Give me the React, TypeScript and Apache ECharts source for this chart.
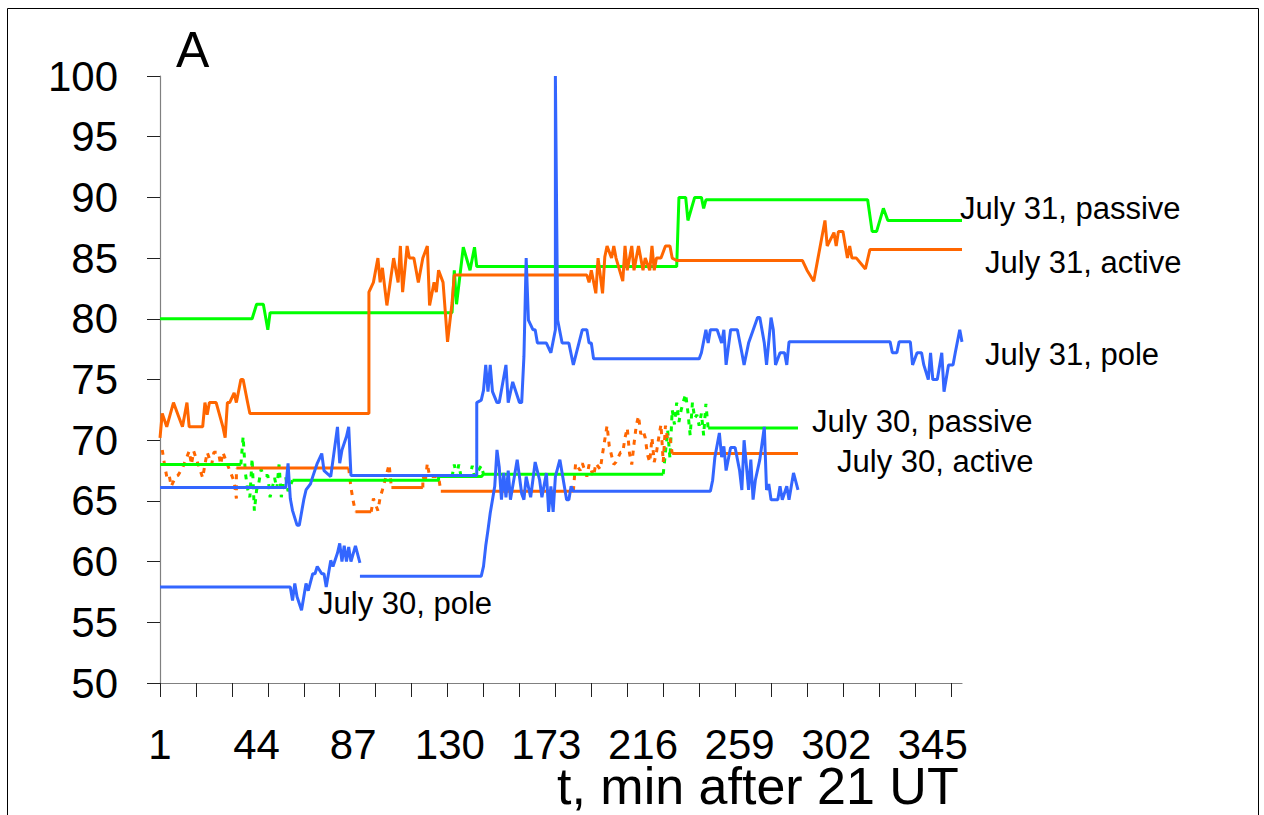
import React, { useEffect, useRef } from "react";
import * as echarts from "echarts";

type Pt = [number, number] | null;

// Categories: minutes 1..358 after 21 UT
const categories: string[] = Array.from({ length: 358 }, (_, i) => String(i + 1));
const yTicks = { min: 50, max: 100, step: 5 };

// [categoryIndex, value]; null separates unconnected pieces
const july31Passive: Pt[] = [
  [0, 80.0], [41, 80.0], [43, 81.2], [46, 81.2], [48, 79.1], [49, 80.5], [130, 80.5], [131, 84.0], [132, 81.2],
  [135, 85.9], [138, 84.0], [140, 85.9], [141, 84.3], [230, 84.3], [231, 90.0], [234, 90.0], [235, 88.1],
  [238, 90.0], [241, 90.0], [242, 89.1], [243, 89.8], [315, 89.8], [317, 87.2], [319, 87.2], [322, 89.1],
  [324, 88.1], [357, 88.1],
];

const july31Active: Pt[] = [
  [0, 70.2], [1, 72.2], [3, 71.1], [6, 73.1], [8, 72.1], [10, 71.1], [12, 73.1], [13, 71.1], [19, 71.1], [20, 73.1],
  [21, 72.1], [22, 73.1], [25, 73.1], [28, 71.1], [29, 70.2], [30, 73.1], [31, 73.1], [33, 73.9], [34, 73.1],
  [36, 75.0], [37, 75.0], [39, 73.1], [40, 72.2], [93, 72.2], [93, 82.2], [95, 83.0], [97, 85.0], [98, 83.0],
  [99, 84.2], [101, 81.1], [104, 85.0], [106, 83.0], [107, 86.0], [108, 82.2], [110, 86.0], [111, 85.0],
  [113, 85.0], [115, 83.0], [117, 85.0], [119, 86.0], [120, 81.1], [122, 83.0], [123, 82.2], [124, 84.0],
  [126, 83.0], [128, 78.1], [130, 81.3], [131, 83.6], [190, 83.6], [191, 83.0], [192, 84.0], [194, 82.1],
  [195, 85.0], [197, 82.1], [198, 85.1], [199, 86.0], [201, 85.0], [202, 86.0], [203, 85.0], [206, 83.1],
  [207, 86.0], [208, 84.0], [210, 86.0], [211, 84.0], [213, 86.0], [215, 84.0], [216, 85.0], [218, 84.0],
  [219, 86.0], [220, 84.0], [221, 85.0], [223, 85.0], [225, 86.0], [227, 86.0], [228, 85.0], [230, 84.8],
  [286, 84.8], [288, 84.0], [291, 83.1], [293, 85.1], [296, 88.1], [297, 86.0], [300, 87.1], [301, 86.0],
  [302, 87.2], [304, 87.2], [306, 85.0], [307, 86.0], [308, 85.0], [310, 85.0], [314, 84.1], [316, 85.7],
  [357, 85.7],
];

const july31Pole: Pt[] = [
  [0, 66.1], [56, 66.1], [57, 68.1], [58, 65.2], [59, 64.2], [61, 63.0], [62, 63.0], [64, 65.1], [65, 65.9],
  [67, 66.4], [68, 67.0], [70, 68.1], [72, 68.9], [73, 67.5], [76, 67.0], [79, 71.1], [80, 68.1], [81, 69.2],
  [83, 70.3], [84, 71.1], [85, 67.1], [141, 67.1], [141, 73.1], [143, 73.3], [144, 74.1], [145, 76.2],
  [146, 74.0], [147, 76.2], [148, 74.0], [150, 73.1], [151, 73.1], [154, 76.2], [155, 73.1], [157, 74.8],
  [160, 73.1], [161, 73.1], [162, 76.9], [163, 85.0], [164, 79.9], [166, 79.1], [167, 79.1], [168, 78.0],
  [172, 78.0], [174, 77.2], [176, 79.1], [176, 100.0], [177, 79.9], [179, 78.0], [182, 78.0], [184, 76.2],
  [188, 79.1], [190, 79.1], [191, 78.0], [192, 78.0], [193, 76.7], [240, 76.7], [241, 77.2], [243, 79.1],
  [244, 78.0], [245, 79.1], [246, 79.1], [248, 79.1], [250, 78.0], [251, 79.1], [252, 76.2], [254, 79.1],
  [257, 79.1], [259, 77.2], [260, 76.2], [262, 78.0], [266, 80.1], [267, 80.1], [269, 78.0], [270, 76.2],
  [272, 80.1], [273, 79.1], [274, 76.2], [276, 77.2], [278, 77.2], [279, 76.2], [280, 78.1], [325, 78.1],
  [326, 77.2], [328, 77.2], [329, 78.1], [334, 78.1], [335, 76.2], [337, 77.2], [339, 77.2], [340, 76.2],
  [342, 75.0], [343, 77.2], [344, 75.0], [346, 75.0], [348, 77.2], [349, 74.0], [351, 76.2], [353, 76.2],
  [354, 77.2], [356, 79.1], [357, 78.1],
];

const july30Pole: Pt[] = [
  [0, 57.9], [58, 57.9], [59, 56.8], [60, 58.2], [61, 57.1], [63, 56.0], [65, 58.2], [66, 57.6], [68, 59.0],
  [69, 59.0], [70, 59.6], [72, 59.0], [73, 59.0], [74, 57.9], [76, 60.1], [77, 59.6], [79, 60.7], [80, 61.5],
  [81, 60.0], [82, 61.3], [83, 60.0], [84, 61.2], [85, 60.0], [87, 61.3], [89, 59.9],
  null,
  [89, 58.8], [143, 58.8], [144, 59.6], [145, 61.3], [146, 62.6], [147, 64.0], [148, 65.1], [149, 66.2],
  [150, 69.2], [151, 67.8], [152, 65.1], [153, 67.3], [154, 65.3], [155, 67.5], [156, 65.1], [159, 68.4],
  [161, 65.6], [162, 65.1], [163, 67.0], [165, 65.3], [167, 68.2], [169, 66.7], [170, 65.3], [172, 67.3],
  [173, 64.1], [174, 66.2], [175, 64.1], [176, 67.0], [178, 68.4], [179, 67.3], [181, 65.1], [182, 65.1],
  [183, 66.2], [184, 65.8], [245, 65.8], [246, 66.7], [247, 68.6], [249, 70.6], [250, 68.6], [251, 69.5],
  [252, 67.5], [254, 69.4], [256, 69.4], [258, 67.5], [259, 65.9], [260, 70.0], [262, 65.9], [263, 68.4],
  [264, 65.1], [265, 66.7], [267, 68.4], [269, 71.1], [270, 65.9], [271, 66.4], [272, 65.1], [275, 65.1],
  [276, 66.2], [277, 65.1], [279, 66.2], [280, 65.1], [282, 67.3], [284, 65.9],
];

const july30PassiveSteady: Pt[] = [
  [0, 68.0], [36, 68.0],
  null,
  [59, 66.7], [124, 66.7], [124, 67.0], [143, 67.0], [144, 67.2], [224, 67.2],
  null,
  [244, 71.0], [284, 71.0],
];

const july30PassiveBroken: Pt[] = [
  [36, 68.0], [37, 70.3], [38, 67.3], [39, 66.0], [40, 65.3], [41, 68.5], [42, 64.2], [43, 65.9], [44, 66.5],
  [45, 67.6], [46, 67.1], [48, 67.1], [49, 65.3], [51, 66.9], [52, 66.0], [53, 68.0], [54, 65.3], [55, 66.5],
  [56, 66.9], [57, 65.8], [59, 66.7],
  null,
  [130, 67.0], [131, 68.0], [132, 67.0], [133, 68.0], [134, 67.0], [138, 67.0], [139, 67.9], [140, 67.0],
  [143, 67.9], [144, 67.2],
  null,
  [224, 67.2], [225, 69.0], [226, 70.8], [227, 68.5], [228, 72.5], [229, 71.3], [230, 73.1], [231, 71.5],
  [232, 72.5], [233, 73.2], [234, 73.8], [235, 72.3], [236, 70.4], [237, 73.1], [238, 71.8], [239, 72.1],
  [240, 71.2], [241, 72.2], [242, 70.4], [243, 73.0], [244, 71.0],
];

const july30ActiveSteady: Pt[] = [
  [34, 67.7], [84, 67.7],
  null,
  [87, 64.1], [94, 64.1],
  null,
  [103, 66.1], [117, 66.1],
  null,
  [125, 65.8], [184, 65.8],
  null,
  [228, 68.9], [284, 68.9],
];

const july30ActiveBroken: Pt[] = [
  [1, 69.2], [2, 68.0], [3, 67.0], [4, 67.2], [5, 66.2], [7, 67.0], [8, 67.1], [10, 67.7], [13, 69.1],
  [14, 68.0], [15, 69.1], [19, 66.9], [20, 68.0], [21, 69.0], [23, 68.0], [24, 69.0], [26, 69.0], [27, 68.0],
  [28, 69.0], [30, 68.0], [33, 66.6], [34, 65.2], [34, 67.7],
  null,
  [84, 67.7], [85, 66.1], [86, 65.0], [87, 64.1],
  null,
  [94, 64.1], [95, 65.2], [97, 64.2], [98, 65.3], [99, 65.9], [102, 68.0], [103, 66.1],
  null,
  [117, 66.1], [117, 67.1], [118, 66.5], [119, 68.1], [120, 67.0], [124, 67.0], [125, 65.8],
  null,
  [184, 65.8], [185, 68.1], [187, 67.5], [188, 68.1], [190, 67.0], [191, 68.0], [193, 67.0], [194, 68.1],
  [196, 67.6], [197, 68.9], [199, 71.2], [200, 69.5], [202, 68.0], [203, 68.2], [205, 69.0], [206, 69.0],
  [207, 70.2], [208, 71.0], [209, 68.9], [210, 68.0], [211, 69.7], [212, 71.2], [213, 72.0], [214, 70.5],
  [215, 70.8], [216, 70.2], [217, 68.8], [218, 68.2], [219, 70.2], [220, 68.2], [221, 69.0], [222, 70.2],
  [223, 71.3], [224, 68.2], [225, 71.2], [226, 70.0], [227, 70.2], [228, 68.9],
];

const seriesLabels = [
  { text: "July 31, passive", x: 960, y: 208 },
  { text: "July 31, active", x: 985, y: 262 },
  { text: "July 31, pole", x: 985, y: 354 },
  { text: "July 30, passive", x: 812, y: 421 },
  { text: "July 30, active", x: 837, y: 461 },
  { text: "July 30, pole", x: 318, y: 603 },
];

const GREEN = "#00FF00";
const ORANGE = "#FF6600";
const BLUE = "#3366FF";
const FONT = "'Liberation Sans', Arial, Helvetica, sans-serif";

function splitPieces(arr: Pt[]): [number, number][][] {
  const out: [number, number][][] = [];
  let cur: [number, number][] = [];
  for (const p of arr) {
    if (p === null) {
      if (cur.length) out.push(cur);
      cur = [];
    } else cur.push(p);
  }
  if (cur.length) out.push(cur);
  return out;
}

function lines(name: string, arr: Pt[], color: string, dashed: boolean) {
  return splitPieces(arr).map((piece, i) => ({
    name: name + "-" + i,
    type: "line",
    data: piece,
    showSymbol: false,
    symbol: "none",
    silent: true,
    lineStyle: { color, width: 3, type: dashed ? [5, 6] : "solid" },
    z: dashed ? 2 : 3,
  }));
}

export default function App() {
  const ref = useRef<HTMLDivElement>(null);
  useEffect(() => {
    if (!ref.current) return;
    const chart = echarts.init(ref.current, undefined, { renderer: "svg" });
    const option: any = {
      animation: false,
      backgroundColor: "#ffffff",
      grid: { left: 160, right: 302, top: 76, bottom: 132, containLabel: false },
      xAxis: {
        type: "category",
        data: categories,
        boundaryGap: false,
        axisLine: { show: true, lineStyle: { color: "#808080", width: 1.2 } },
        axisTick: { show: true, interval: 15, length: 14, lineStyle: { color: "#222", width: 1 } },
        axisLabel: { interval: 42, fontSize: 42, fontFamily: FONT, color: "#000", margin: 40, lineHeight: 42 },
        splitLine: { show: false },
      },
      yAxis: {
        type: "value",
        min: yTicks.min,
        max: yTicks.max,
        interval: yTicks.step,
        axisLine: { show: true, lineStyle: { color: "#808080", width: 1.2 } },
        axisTick: { show: true, length: 13, lineStyle: { color: "#222", width: 1 } },
        axisLabel: { fontSize: 42, fontFamily: FONT, color: "#000", margin: 42 },
        splitLine: { show: false },
      },
      series: [
        ...lines("July 30, passive broken", july30PassiveBroken, GREEN, true),
        ...lines("July 30, active broken", july30ActiveBroken, ORANGE, true),
        ...lines("July 30, passive", july30PassiveSteady, GREEN, false),
        ...lines("July 30, active", july30ActiveSteady, ORANGE, false),
        ...lines("July 30, pole", july30Pole, BLUE, false),
        ...lines("July 31, passive", july31Passive, GREEN, false),
        ...lines("July 31, active", july31Active, ORANGE, false),
        ...lines("July 31, pole", july31Pole, BLUE, false),
      ],
      graphic: [
        {
          type: "rect",
          shape: { x: 7.5, y: 8.5, width: 1251, height: 830 },
          style: { fill: "none", stroke: "#000", lineWidth: 1 },
          silent: true,
        },
        {
          type: "text",
          x: 176,
          y: 50,
          style: { text: "A", fontSize: 50, fontFamily: FONT, fill: "#000", align: "left", verticalAlign: "middle" },
        },
        {
          type: "text",
          x: 557,
          y: 810,
          style: {
            text: "t, min after 21 UT",
            fontSize: 52,
            fontFamily: FONT,
            fill: "#000",
            align: "left",
            verticalAlign: "bottom",
            lineHeight: 48,
          },
        },
        ...seriesLabels.map((l) => ({
          type: "text",
          x: l.x,
          y: l.y,
          style: { text: l.text, fontSize: 31, fontFamily: FONT, fill: "#000", align: "left", verticalAlign: "middle" },
        })),
      ],
    };
    chart.setOption(option);
    return () => chart.dispose();
  }, []);
  return (
    <div
      ref={ref}
      style={{ position: "fixed", left: 0, top: 0, width: 1264, height: 815, background: "#fff" }}
    />
  );
}
